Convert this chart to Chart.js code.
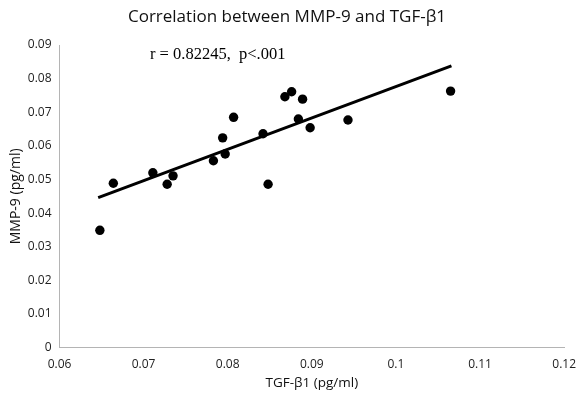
<!DOCTYPE html>
<html><head><meta charset="utf-8">
<script src="https://cdn.jsdelivr.net/npm/chart.js@4/dist/chart.umd.min.js"></script>
<style>html,body{margin:0;padding:0;background:#fff}</style>
</head><body>
<canvas id="c" width="586" height="394"></canvas>
<script>
const tgfValues = [0.0648, 0.0664, 0.0711, 0.0728, 0.0735, 0.0783, 0.0794, 0.0797, 0.0807, 0.0842, 0.0848, 0.0868, 0.0876, 0.0884, 0.0889, 0.0898, 0.0943, 0.1065];
const mmpValues = [0.0349, 0.0489, 0.0520, 0.0486, 0.0511, 0.0556, 0.0624, 0.0576, 0.0685, 0.0636, 0.0486, 0.0746, 0.0761, 0.0680, 0.0739, 0.0654, 0.0677, 0.0763];
const trendX = [0.0646, 0.1066];
const trendY = [0.0446, 0.0838];
const xTicks = [0.06, 0.07, 0.08, 0.09, 0.1, 0.11, 0.12];
const yTicks = [0, 0.01, 0.02, 0.03, 0.04, 0.05, 0.06, 0.07, 0.08, 0.09];
const chartTitle = 'Correlation between MMP-9 and TGF-β1';
const xTitle = 'TGF-β1 (pg/ml)';
const yTitle = 'MMP-9 (pg/ml)';
const statsNote = 'r = 0.82245,  p<.001';

const SANS = "'Open Sans', 'Noto Sans', sans-serif";
const points = tgfValues.map((x, i) => ({x, y: mmpValues[i]}));
const trend = trendX.map((x, i) => ({x, y: trendY[i]}));

const notePlugin = {
  id: 'note',
  afterDatasetsDraw(chart) {
    const ctx = chart.ctx;
    ctx.save();
    ctx.font = "16.5px 'Liberation Serif', 'Times New Roman', serif";
    ctx.fillStyle = '#000';
    ctx.textBaseline = 'middle';
    ctx.textAlign = 'left';
    ctx.fillText(statsNote, 150, 55);
    ctx.restore();
  }
};

new Chart(document.getElementById('c'), {
  type: 'scatter',
  data: {
    datasets: [
      {
        label: 'Trend', data: trend, showLine: true, borderColor: '#000', borderWidth: 3,
        pointRadius: 0, pointHoverRadius: 0, fill: false, order: 1
      },
      {
        label: 'Samples', data: points, backgroundColor: '#000', borderColor: '#000',
        pointRadius: 4.7, pointBorderWidth: 0, order: 0
      }
    ]
  },
  options: {
    responsive: false,
    animation: false,
    devicePixelRatio: 1,
    layout: {padding: {left: 0, right: 12, top: 0, bottom: 0}},
    plugins: {
      legend: {display: false},
      tooltip: {enabled: false},
      title: {
        display: true, text: chartTitle, color: '#111',
        font: {family: SANS, size: 17, weight: 'normal', lineHeight: 1.2},
        padding: {top: 7, bottom: 17.6}
      }
    },
    scales: {
      x: {
        type: 'linear', min: 0.06, max: 0.12,
        afterBuildTicks(scale) { scale.ticks = xTicks.map(v => ({value: v})); },
        afterFit(scale) { scale.height = 46.3; },
        grid: {display: false, drawTicks: false},
        border: {display: true, color: '#b4b4b4', width: 1},
        ticks: {
          color: '#222', font: {family: SANS, size: 12}, padding: 10, maxRotation: 0,
          callback: v => String(Number(v.toFixed(2)))
        },
        title: {display: true, text: xTitle, color: '#111',
          font: {family: SANS, size: 13.5}, padding: {top: 0, bottom: 3}}
      },
      y: {
        type: 'linear', min: 0, max: 0.09,
        afterBuildTicks(scale) { scale.ticks = yTicks.map(v => ({value: v})); },
        afterFit(scale) { scale.width = 59.5; },
        grid: {display: false, drawTicks: false},
        border: {display: true, color: '#b4b4b4', width: 1},
        ticks: {
          color: '#222', font: {family: SANS, size: 12}, padding: 8,
          callback: v => String(Number(v.toFixed(2)))
        },
        title: {display: true, text: yTitle, color: '#111',
          font: {family: SANS, size: 14}, padding: {top: 8, bottom: 0}}
      }
    }
  },
  plugins: [notePlugin]
});
</script>
</body></html>
